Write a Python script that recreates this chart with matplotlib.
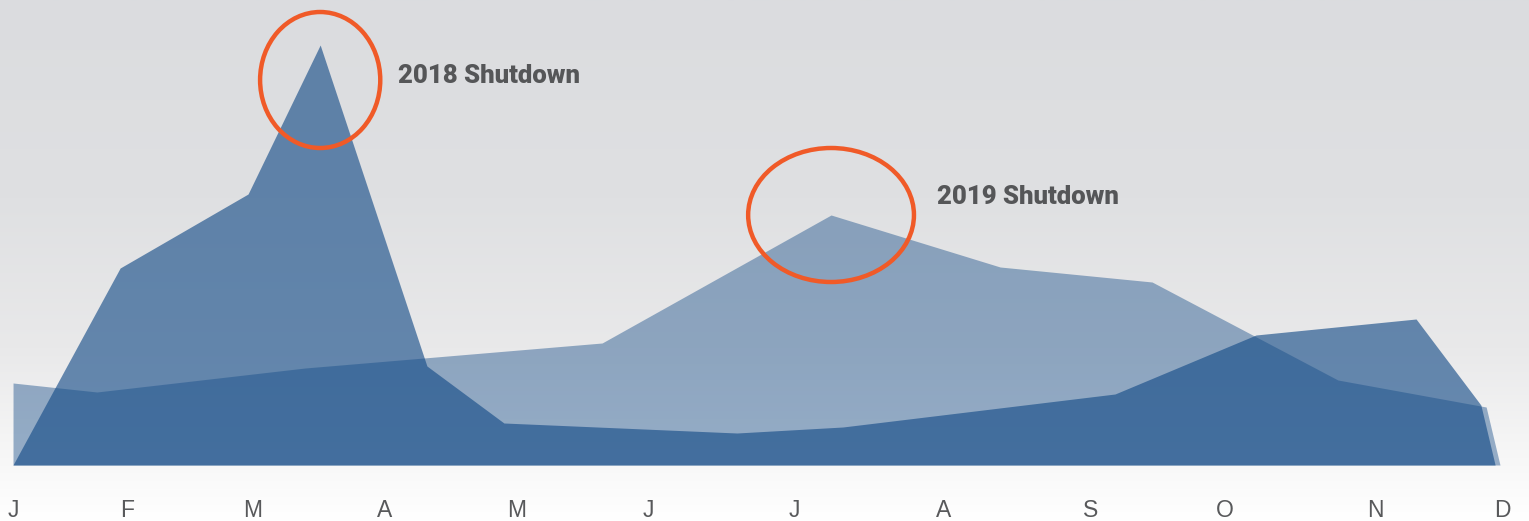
import matplotlib
matplotlib.use("Agg")
import matplotlib.pyplot as plt
import numpy as np
from matplotlib.patches import Ellipse
from matplotlib.colors import LinearSegmentedColormap

# ---- data (x = day of year, y = relative volume) ----
months = ["J", "F", "M", "A", "M", "J", "J", "A", "S", "O", "N", "D"]
month_pos = [0, 28.0, 58.7, 91.3, 123.5, 155.9, 191.7, 228.5, 264.4, 297.5, 334.3, 365.5]

x_2018 = [0, 26.3, 57.7, 75.4, 101.6, 120.5, 177.7, 203.7, 270.5, 305.1, 344.4, 360.3, 363.8]
y_2018 = [0, 197, 271, 420, 99, 42, 32, 38, 71, 130, 146, 60, 0]

x_2019 = [0, 0.01, 20.6, 71.7, 144.6, 200.8, 242.3, 279.6, 325.2, 361.6, 365.0]
y_2019 = [0, 82, 73, 97, 122, 250, 198, 183, 85, 58, 0]

labels = ["2018 Shutdown", "2019 Shutdown"]
label_pos = [(94.5, 389), (226.8, 268)]
circle_centers = [(75.4, 385), (200.8, 250)]
circle_sizes = [(29.5, 136), (40.7, 134)]

W, H = 1529, 521
fig = plt.figure(figsize=(W / 100, H / 100), dpi=100)

# background gradient
bg = fig.add_axes([0, 0, 1, 1], zorder=0)
cmap = LinearSegmentedColormap.from_list(
    "bg",
    [(0.0, "#dbdcdf"), (0.38, "#dfe0e2"), (0.67, "#e9e9ea"), (0.88, "#f7f7f7"), (1.0, "#ffffff")],
)
grad = np.linspace(0, 1, 256).reshape(-1, 1)
bg.imshow(grad, aspect="auto", cmap=cmap, extent=[0, 1, 0, 1], origin="upper")
bg.axis("off")

ax = fig.add_axes([0, (H - 465) / H, 1, 465 / H], zorder=1)
ax.patch.set_alpha(0)
px2day = 365 / (1500 - 13)
ax.set_xlim(-13 * px2day, (W - 13) * px2day)
ax.set_ylim(0, 465)

blue = (20 / 255, 75 / 255, 135 / 255)
ax.fill_between(x_2018, y_2018, 0, color=blue, alpha=0.63, linewidth=0)
ax.fill_between(x_2019, y_2019, 0, color=blue, alpha=0.43, linewidth=0)

orange = "#f05a28"
for (cx, cy), (w, h) in zip(circle_centers, circle_sizes):
    ax.add_patch(Ellipse((cx, cy), w, h, fill=False, edgecolor=orange, linewidth=3.2, zorder=5, clip_on=False))

for t, (tx, ty) in zip(labels, label_pos):
    ax.text(tx, ty, t, ha="left", va="center", fontsize=18.5,
            family=["Roboto", "DejaVu Sans"],
            fontweight="heavy", color="#555658", zorder=6)

ax.set_xticks(month_pos)
ax.set_xticklabels(months, fontsize=16.5, color="#58595b", family=["Liberation Sans", "DejaVu Sans"])
ax.tick_params(axis="x", length=0, pad=24.5)
ax.set_yticks([])
for s in ax.spines.values():
    s.set_visible(False)

fig.savefig("out.png", dpi=100)
